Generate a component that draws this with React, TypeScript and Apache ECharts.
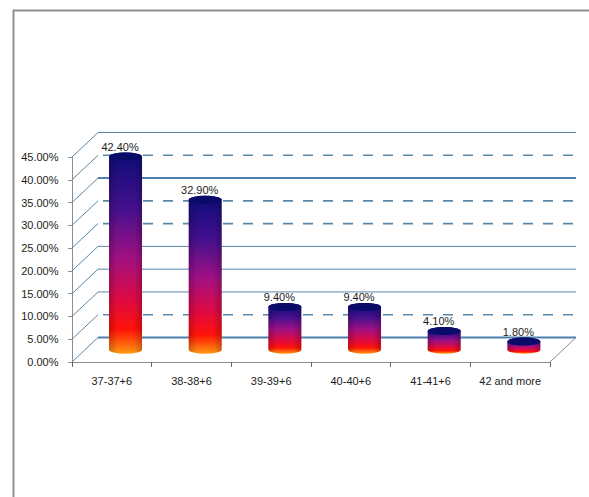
import React, { useEffect, useRef } from "react";
import * as echarts from "echarts";

const categories = ["37-37+6", "38-38+6", "39-39+6", "40-40+6", "41-41+6", "42 and more"];
const shares = [42.4, 32.9, 9.4, 9.4, 4.1, 1.8];
const gridValues = [0, 5, 10, 15, 20, 25, 30, 35, 40, 45];
const dashedValues = [5, 25, 30, 40];
const heavyValues = [0, 35];

const FONT = '"Liberation Sans", sans-serif';
const TEXT = "#1c1c1c";
const WALL = "#5a87a8";
const EDGE = "#8d8d8d";
const DEPTH_X = 26;
const DEPTH_Y = 24.5;
const RX = 16.5;
const RY = 4;

const bodyGradient = new echarts.graphic.LinearGradient(0, 0, 0, 1, [
  { offset: 0, color: "#0c0c78" },
  { offset: 0.28, color: "#45108e" },
  { offset: 0.52, color: "#a01082" },
  { offset: 0.74, color: "#e00a40" },
  { offset: 0.88, color: "#ff1208" },
  { offset: 1, color: "#ff9a10" },
]);
const sideShade = new echarts.graphic.LinearGradient(0, 0, 1, 0, [
  { offset: 0, color: "rgba(0,0,0,0.2)" },
  { offset: 0.25, color: "rgba(0,0,0,0)" },
  { offset: 0.75, color: "rgba(0,0,0,0)" },
  { offset: 1, color: "rgba(0,0,0,0.2)" },
]);

// One gridline on the chart's receding wall: a diagonal on the left side, then the back line.
const renderWallLine = (params: any, api: any) => {
  const value = api.value(1) as number;
  const sys = params.coordSys;
  const y = api.coord([0, value])[1];
  const backLeft = sys.x + DEPTH_X;
  const backRight = sys.x + sys.width + DEPTH_X;
  const backY = y - DEPTH_Y;
  const heavy = heavyValues.includes(value);
  const dashed = dashedValues.includes(value);
  const children: any[] = [
    {
      type: "line",
      shape: { x1: sys.x, y1: y, x2: backLeft, y2: backY },
      style: { stroke: WALL, lineWidth: 1 },
    },
    {
      type: "line",
      shape: { x1: backLeft, y1: backY, x2: backRight, y2: backY },
      style: {
        stroke: heavy ? "#4f80ad" : WALL,
        lineWidth: heavy ? 2 : dashed ? 1.6 : 1,
        lineDash: dashed ? [10, 10] : null,
        lineDashOffset: dashed ? 15 : 0,
      },
    },
  ];
  if (value === 0) {
    children.push({
      type: "line",
      shape: { x1: sys.x + sys.width, y1: y, x2: backRight, y2: backY },
      style: { stroke: EDGE, lineWidth: 1 },
    });
  }
  return { type: "group", children };
};

// A cylinder standing midway between the front edge and the back wall, with its value above it.
const renderCylinder = (_params: any, api: any) => {
  const index = api.value(0) as number;
  const value = api.value(1) as number;
  const cx = api.coord([index, 0])[0] + DEPTH_X / 2 + 0.7;
  const baseY = api.coord([index, 0])[1] - DEPTH_Y / 2;
  const topY = api.coord([index, value])[1] - DEPTH_Y / 2;
  const l = cx - RX;
  const r = cx + RX;
  const body = `M${l} ${topY}L${l} ${baseY}A${RX} ${RY} 0 0 0 ${r} ${baseY}L${r} ${topY}A${RX} ${RY} 0 0 0 ${l} ${topY}Z`;
  return {
    type: "group",
    children: [
      { type: "path", shape: { pathData: body }, style: { fill: bodyGradient, stroke: null } },
      { type: "path", shape: { pathData: body }, style: { fill: sideShade, stroke: null } },
      {
        type: "ellipse",
        shape: { cx, cy: topY, rx: RX, ry: RY },
        style: { fill: "#0a0a68", stroke: null },
      },
      {
        type: "text",
        style: {
          x: cx - 5.5,
          y: topY - 10,
          text: `${value.toFixed(2)}%`,
          font: `11px ${FONT}`,
          fill: TEXT,
          align: "center",
          verticalAlign: "middle",
        },
      },
    ],
  };
};

export default function App() {
  const ref = useRef<HTMLDivElement>(null);

  useEffect(() => {
    const chart = echarts.init(ref.current!, null, { renderer: "svg" });
    chart.setOption({
      animation: false,
      backgroundColor: "#ffffff",
      textStyle: { fontFamily: FONT },
      grid: { left: 72, right: 39, top: 157, bottom: 135 },
      xAxis: {
        type: "category",
        data: categories,
        axisLine: { lineStyle: { color: EDGE, width: 1 } },
        axisTick: { show: true, interval: 0, length: 5, lineStyle: { color: "#666666" } },
        axisLabel: { color: TEXT, fontSize: 11, fontFamily: FONT, margin: 13, interval: 0 },
      },
      yAxis: {
        type: "value",
        min: 0,
        max: 45,
        interval: 5,
        splitLine: { show: false },
        axisLine: { show: true, lineStyle: { color: EDGE, width: 1 } },
        axisTick: { show: true, length: 4, lineStyle: { color: EDGE } },
        axisLabel: {
          color: TEXT,
          fontSize: 11,
          fontFamily: FONT,
          margin: 13.5,
          formatter: (v: number) => `${v.toFixed(2)}%`,
        },
      },
      series: [
        {
          type: "custom",
          z: 1,
          renderItem: renderWallLine,
          data: gridValues.map((v) => [0, v]),
          encode: { x: 0, y: 1 },
          silent: true,
        },
        {
          type: "custom",
          z: 3,
          renderItem: renderCylinder,
          data: shares.map((v, i) => [i, v]),
          encode: { x: 0, y: 1 },
        },
      ],
      graphic: [
        {
          type: "line",
          shape: { x1: 13, y1: 10.5, x2: 589, y2: 10.5 },
          style: { stroke: "#8f8f8f", lineWidth: 2 },
        },
        {
          type: "line",
          shape: { x1: 13.5, y1: 10, x2: 13.5, y2: 497 },
          style: { stroke: "#8f8f8f", lineWidth: 2 },
        },
      ],
    });
    return () => chart.dispose();
  }, []);

  return <div ref={ref} style={{ position: "absolute", left: 0, top: 0, width: 589, height: 497 }} />;
}
